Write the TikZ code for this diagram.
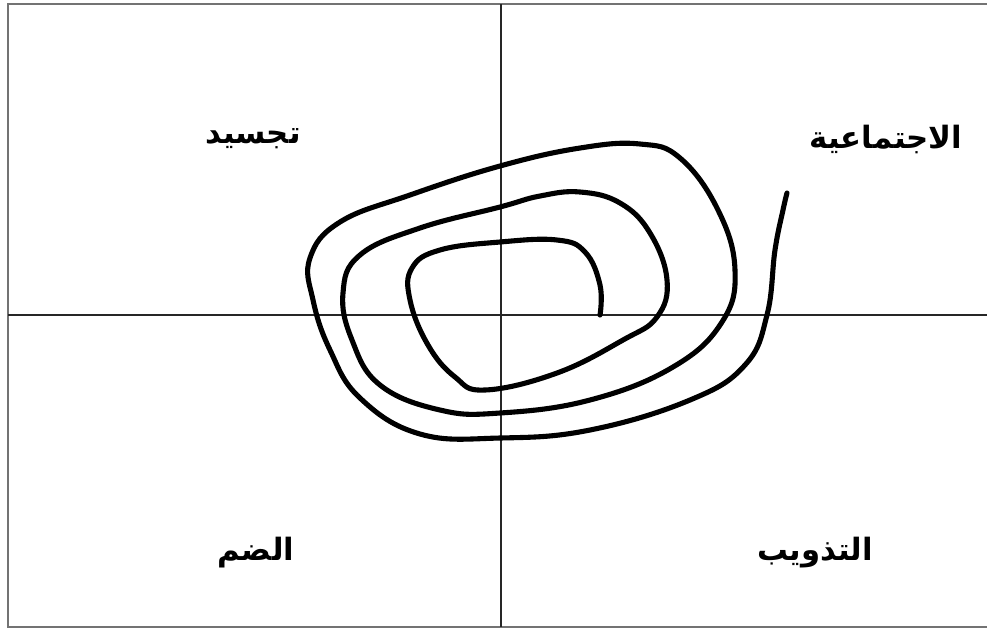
\documentclass[tikz,border=0pt]{standalone}
\usepackage{fontspec}
\usepackage{tikz}
\TeXXeTstate=1
\newfontfamily\arabicfont[Script=Arabic]{DejaVu Sans}
\newcommand{\corMoldura}{black!55}
\newcommand{\corEixo}{black!85}
\newcommand{\corEspiral}{black}
\tikzset{
  rotulo/.style={font=\arabicfont\bfseries\fontsize{17.5}{20}\selectfont, inner sep=0pt},
}

\begin{document}
\begin{tikzpicture}[x=0.02cm, y=-0.02cm]
          % area
        \useasboundingbox (0,0) rectangle (987,630);

          % moldura
        \draw [\corMoldura, line width=1.6pt] (990,4) -- (8,4) -- (8,627) -- (990,627);

          % eixos
        \draw [\corEixo, line width=1.1pt] (501,4) -- (501,627);
        \draw [\corEixo, line width=1.1pt] (8,315) -- (987,315);

          % espiral
        \draw [\corEspiral, line width=2.9pt, line cap=round, line join=round]
           plot [smooth, tension=0.7] coordinates {
           (600,315) (600,285) (585,252) (557,240) (500,242) (440,250) (412,268)
           (410,300) (428,345) (455,377) (485,390) (557,373) (623,340) (657,317)
           (667,280) (650,233) (620,203) (580,192) (540,196) (500,207) (420,228)
           (360,255) (343,293) (352,340) (380,385) (440,410) (500,413) (590,400)
           (673,367) (722,322) (735,270) (718,210) (680,158) (640,144) (580,148)
           (500,166) (410,195) (340,222) (310,258) (313,300) (330,350) (360,398)
           (420,434) (500,438) (590,430) (690,400) (745,365) (767,315) (775,250)
           (783,210) (787,193)};

          % rotulos
        \node [rotulo] (tajsid) at (253,139) {\beginR تجسيد\endR};
        \node [rotulo] (ijtimaiya) at (886,139) {\beginR الاجتماعية\endR};
        \node [rotulo] (damm) at (256,553) {\beginR الضم\endR};
        \node [rotulo] (tadhwib) at (815,553) {\beginR التذويب\endR};

    \end{tikzpicture}
\end{document}
